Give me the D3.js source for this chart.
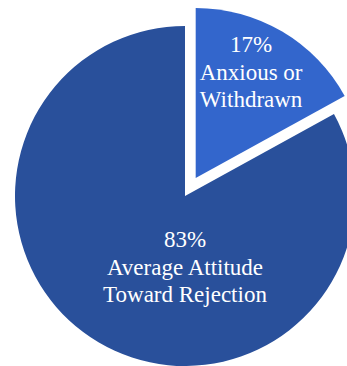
<!DOCTYPE html>
<html>
<head>
<meta charset="utf-8">
<script src="https://cdn.jsdelivr.net/npm/d3@7"></script>
<style>
  html, body { margin: 0; padding: 0; background: #fff; }
  svg { display: block; }
</style>
</head>
<body>
<div id="chart"></div>
<script>
const categories = ["Anxious or Withdrawn", "Average Attitude Toward Rejection"];
const shares = [17, 83];
const labelLines = [
  ["17%", "Anxious or", "Withdrawn"],
  ["83%", "Average Attitude", "Toward Rejection"]
];

const width = 347;
const height = 366;
const radius = 170;
const cx = 185, cy = 196;
const explode = 21;

const color = d3.scaleOrdinal()
  .domain(categories)
  .range(["#3366cc", "#29509b"]);

const svg = d3.select('#chart')
  .append('svg')
  .attr('width', width)
  .attr('height', height)
  .attr('viewBox', [0, 0, width, height]);

const pie = d3.pie().sort(null).value(d => d.value);
const arcs = pie(categories.map((c, i) => ({ name: c, value: shares[i], lines: labelLines[i] })));

const arc = d3.arc().innerRadius(0).outerRadius(radius);

const g = svg.append('g').attr('transform', `translate(${cx},${cy})`);

// small slice gets pulled out along its bisector
function offset(d, i) {
  if (i !== 0) return [0, 0];
  const a = (d.startAngle + d.endAngle) / 2;
  return [Math.sin(a) * explode, -Math.cos(a) * explode];
}

const slices = g.selectAll('g.slice')
  .data(arcs)
  .join('g')
  .attr('class', 'slice')
  .attr('transform', (d, i) => `translate(${offset(d, i)})`);

slices.append('path')
  .attr('d', arc)
  .attr('fill', d => color(d.data.name));

// label anchors: small one along its bisector, big one straight below centre
const labelArc = d3.arc().innerRadius(radius * 0.64).outerRadius(radius * 0.64);
function labelPos(d, i) {
  if (i === 0) {
    const [x, y] = labelArc.centroid(d);
    return [x, y - 32];
  }
  return [0, radius * 0.3];
}

const labels = slices.append('text')
  .attr('transform', (d, i) => `translate(${labelPos(d, i)})`)
  .attr('text-anchor', 'middle')
  .attr('fill', '#fff')
  .attr('font-family', '"Liberation Serif", "Times New Roman", serif')
  .attr('font-size', '23px');

labels.selectAll('tspan')
  .data(d => d.data.lines)
  .join('tspan')
  .attr('x', 0)
  .attr('dy', (d, i) => i === 0 ? 0 : 27.5)
  .text(d => d);
</script>
</body>
</html>
